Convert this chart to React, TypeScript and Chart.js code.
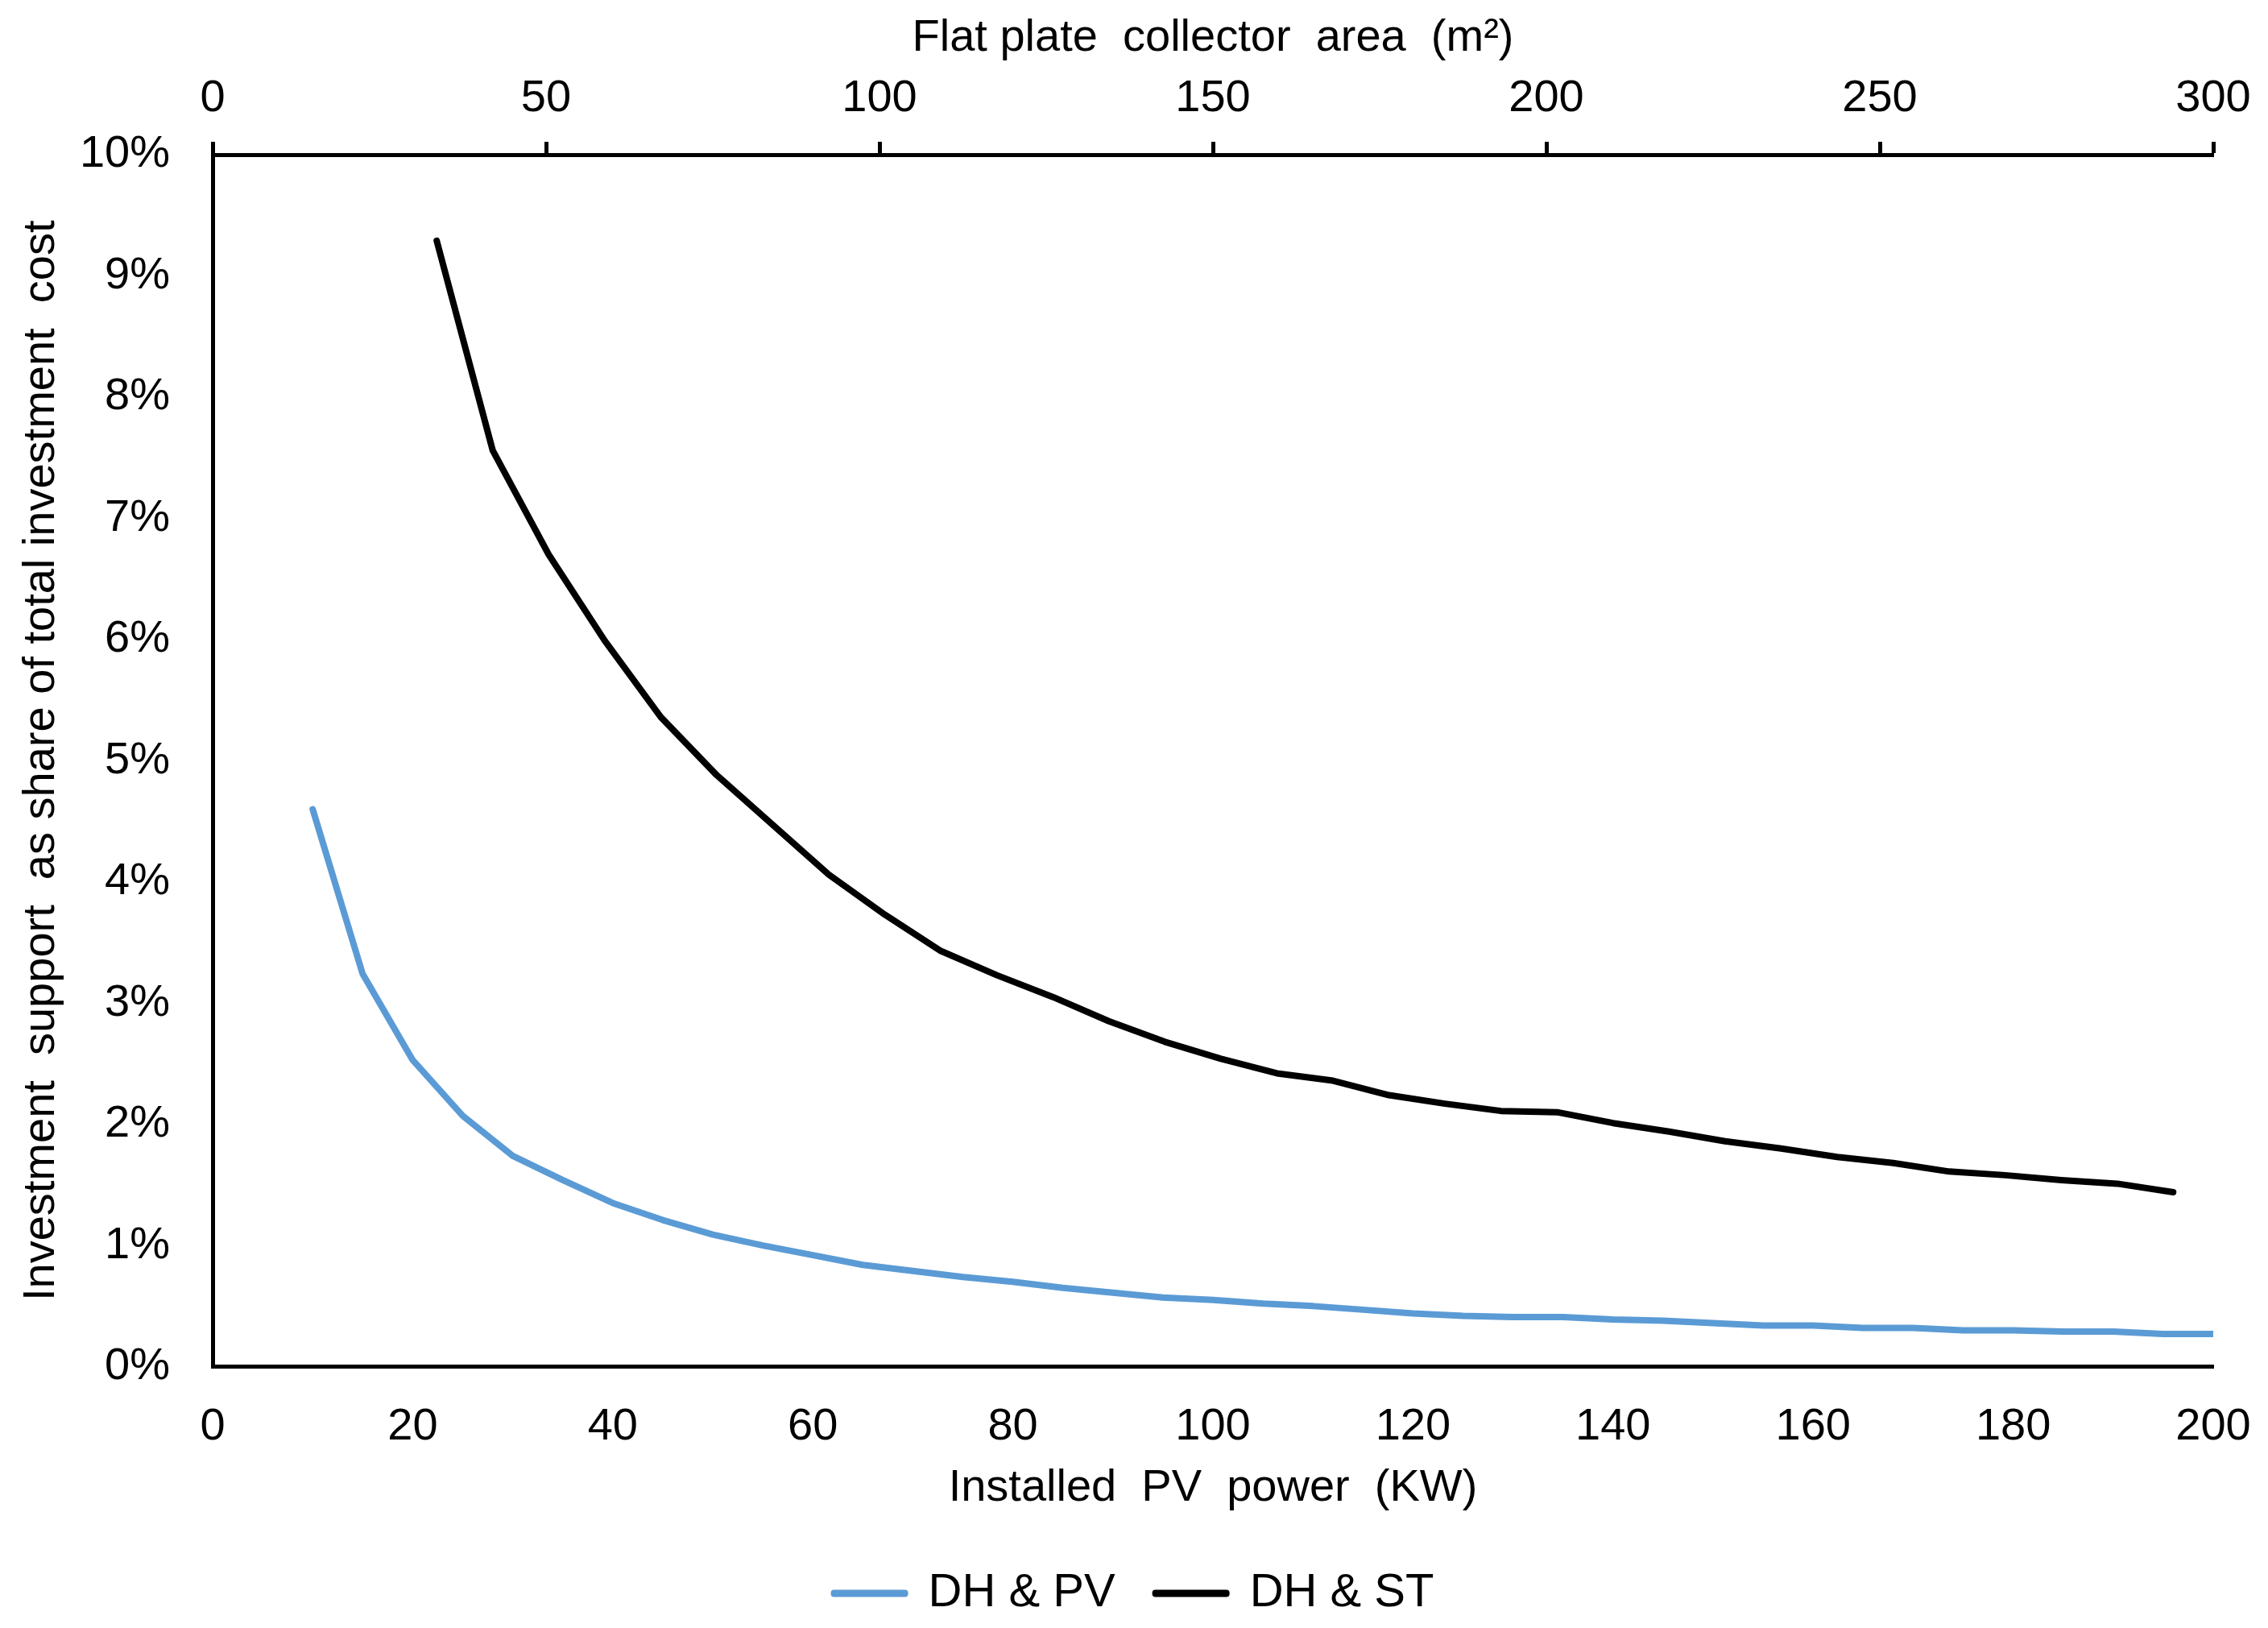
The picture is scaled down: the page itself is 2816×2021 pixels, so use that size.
import { useEffect, useRef } from "react"
import { Chart, registerables } from "chart.js"

Chart.register(...registerables)

// DH & PV: installed PV power (kW) vs investment support share (%)
const pvPowerKw = [
  10, 15, 20, 25, 30, 35, 40, 45, 50, 55, 60, 65, 70, 75, 80, 85, 90, 95, 100, 105,
  110, 115, 120, 125, 130, 135, 140, 145, 150, 155, 160, 165, 170, 175, 180, 185, 190, 195, 200,
]
const pvShare = [
  4.6, 3.24, 2.53, 2.07, 1.74, 1.54, 1.35, 1.21, 1.09, 1.0, 0.92, 0.84, 0.79, 0.74, 0.7, 0.65, 0.61, 0.57, 0.55, 0.52,
  0.5, 0.47, 0.44, 0.42, 0.41, 0.41, 0.39, 0.38, 0.36, 0.34, 0.34, 0.32, 0.32, 0.3, 0.3, 0.29, 0.29, 0.27, 0.27,
]

// DH & ST: flat plate collector area (m²) vs investment support share (%)
const stAreaM2 = [
  33.6, 42, 50.4, 58.8, 67.2, 75.6, 84, 92.4, 100.8, 109.2, 117.6, 126, 134.4, 142.8, 151.2, 159.6,
  168, 176.4, 184.8, 193.2, 201.6, 210, 218.4, 226.8, 235.2, 243.6, 252, 260.4, 268.8, 277.2, 285.6, 294,
]
const stShare = [
  9.29, 7.56, 6.7, 5.99, 5.36, 4.88, 4.47, 4.06, 3.73, 3.43, 3.23, 3.05, 2.85, 2.68, 2.54, 2.42,
  2.36, 2.24, 2.17, 2.11, 2.1, 2.01, 1.94, 1.86, 1.8, 1.73, 1.68, 1.61, 1.58, 1.54, 1.51, 1.44,
]

const seriesNames = ["DH & PV", "DH & ST"]
const seriesColors = ["#5B9BD5", "#000000"]

const pvAxisRange = { min: 0, max: 200, step: 20 }
const areaAxisRange = { min: 0, max: 300, step: 50 }
const shareAxisRange = { min: 0, max: 10, step: 1 }

const WIDTH = 2816
const HEIGHT = 2021
const FONT = "'Liberation Sans', Arial, sans-serif"
const FONT_SIZE = 56

export default function App() {
  const canvasRef = useRef<HTMLCanvasElement>(null)
  const chartRef = useRef<Chart | null>(null)

  useEffect(() => {
    document.body.style.margin = "0"
    if (!canvasRef.current) return
    if (chartRef.current) chartRef.current.destroy()

    const ctx = canvasRef.current.getContext("2d")
    if (!ctx) return

    Chart.defaults.font.family = FONT
    Chart.defaults.font.size = FONT_SIZE
    Chart.defaults.color = "#000"

    chartRef.current = new Chart(ctx, {
      type: "line",
      data: {
        datasets: [
          {
            label: seriesNames[0],
            data: pvPowerKw.map((x, i) => ({ x, y: pvShare[i] })),
            xAxisID: "x",
            borderColor: seriesColors[0],
            backgroundColor: seriesColors[0],
            borderWidth: 8,
            pointRadius: 0,
            tension: 0,
            borderCapStyle: "round",
            borderJoinStyle: "round",
          },
          {
            label: seriesNames[1],
            data: stAreaM2.map((x, i) => ({ x, y: stShare[i] })),
            xAxisID: "x2",
            borderColor: seriesColors[1],
            backgroundColor: seriesColors[1],
            borderWidth: 8,
            pointRadius: 0,
            tension: 0,
            borderCapStyle: "round",
            borderJoinStyle: "round",
          },
        ],
      },
      options: {
        responsive: false,
        animation: false,
        devicePixelRatio: 1,
        layout: { padding: { left: 0, right: 0, top: 0, bottom: 4 } },
        scales: {
          x: {
            type: "linear",
            position: "bottom",
            min: pvAxisRange.min,
            max: pvAxisRange.max,
            grid: { display: false },
            border: { display: true, color: "#000", width: 5 },
            ticks: { stepSize: pvAxisRange.step, padding: 33, maxRotation: 0 },
            title: {
              display: true,
              text: "Installed  PV  power  (KW)",
              padding: { top: -24, bottom: 18 },
            },
            afterFit: (scale) => {
              scale.paddingRight = 68
            },
          },
          x2: {
            type: "linear",
            position: "top",
            min: areaAxisRange.min,
            max: areaAxisRange.max,
            grid: {
              display: true,
              drawOnChartArea: false,
              drawTicks: true,
              tickLength: 16,
              tickWidth: 5,
              color: "#000",
            },
            border: { display: true, color: "#000", width: 5 },
            ticks: { stepSize: areaAxisRange.step, padding: 20, maxRotation: 0 },
            title: {
              display: true,
              text: "Flat plate  collector  area  (m²)",
              padding: { top: 14, bottom: 6 },
            },
            afterFit: (scale) => {
              scale.height = 192
              scale.paddingRight = 68
            },
          },
          y: {
            type: "linear",
            min: shareAxisRange.min,
            max: shareAxisRange.max,
            grid: { display: false },
            border: { display: true, color: "#000", width: 5 },
            ticks: {
              stepSize: shareAxisRange.step,
              padding: 45,
              callback: (v) => `${v}%`,
            },
            title: {
              display: true,
              text: "Investment  support  as share of total investment  cost",
              padding: { top: 18, bottom: 0 },
            },
            afterFit: (scale) => {
              scale.width = 264
            },
          },
        },
        plugins: {
          legend: {
            position: "bottom",
            labels: {
              boxWidth: 88,
              boxHeight: 1,
              padding: 50,
              color: "#000",
              font: { size: 58 },
            },
          },
          tooltip: { enabled: false },
        },
      },
    })

    return () => {
      if (chartRef.current) {
        chartRef.current.destroy()
        chartRef.current = null
      }
    }
  }, [])

  return (
    <div style={{ width: WIDTH, height: HEIGHT, background: "#fff" }}>
      <canvas ref={canvasRef} width={WIDTH} height={HEIGHT} style={{ display: "block", width: WIDTH, height: HEIGHT }} />
    </div>
  )
}
